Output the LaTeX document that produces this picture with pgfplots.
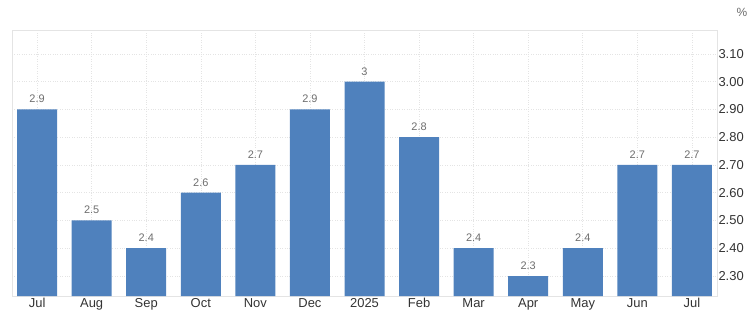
\documentclass[border=0pt]{standalone}
\usepackage{pgfplots}
\pgfplotsset{compat=1.18}
\usepackage{fontspec}
\setmainfont{Liberation Sans}
\definecolor{barblue}{RGB}{79,129,189}
\definecolor{gridc}{RGB}{228,228,228}
\definecolor{txt}{RGB}{51,51,51}
\definecolor{vtxt}{RGB}{110,110,110}
\begin{document}
\begin{tikzpicture}[x=1bp,y=1bp]
\path[use as bounding box] (0,0) rectangle (752,314);
\begin{axis}[
  at={(12bp,18bp)}, anchor=south west,
  scale only axis, width=705bp, height=266bp,
  ymin=2.228, ymax=3.186,
  xmin=-0.46, xmax=12.46,
  ytick={2.3,2.4,2.5,2.6,2.7,2.8,2.9,3.0,3.1},
  yticklabel pos=right,
  y tick label style={/pgf/number format/fixed,/pgf/number format/fixed zerofill,/pgf/number format/precision=2, xshift=-2bp},
  xtick={0,...,12},
  xticklabels={Jul,Aug,Sep,Oct,Nov,Dec,2025,Feb,Mar,Apr,May,Jun,Jul},
  tick style={draw=none},
  major tick length=0pt,
  grid=major,
  major grid style={draw=gridc, dotted, line width=0.6bp},
  axis line style={draw=gridc, line width=0.6bp},
  /pgf/number format/assume math mode=true,
  ticklabel style={font=\fontsize{13}{14}\selectfont, text=txt},
  x tick label style={yshift=1bp},
  ybar, bar width=40bp, bar shift=0pt,
  nodes near coords,
  nodes near coords style={font=\fontsize{11}{12}\selectfont, text=vtxt, yshift=3bp},
]
\addplot[fill=barblue, draw=none] coordinates {
(0,2.9) (1,2.5) (2,2.4) (3,2.6) (4,2.7) (5,2.9) (6,3.0) (7,2.8) (8,2.4) (9,2.3) (10,2.4) (11,2.7) (12,2.7)};
\end{axis}
\node[font=\fontsize{12}{13}\selectfont, text=vtxt] at (742,302) {\%};
\end{tikzpicture}
\end{document}
